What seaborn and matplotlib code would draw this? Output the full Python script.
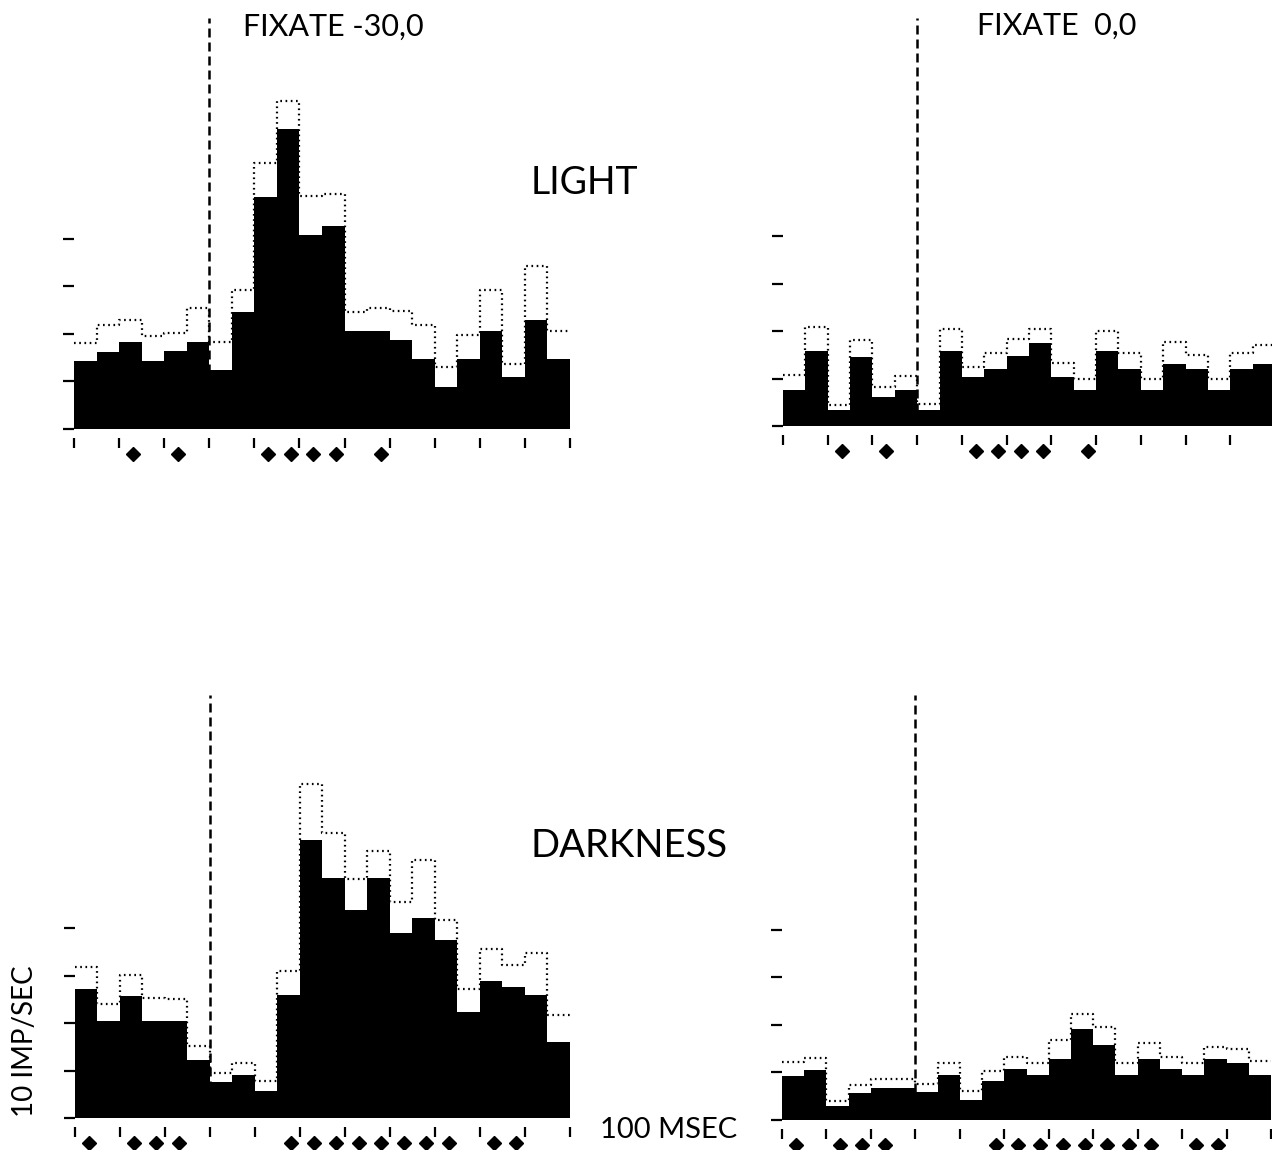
import numpy as np
import pandas as pd
import matplotlib
matplotlib.use("Agg")
import matplotlib.pyplot as plt
import seaborn as sns

# 50-ms bins, time in ms relative to the event marked by the dashed line
bin_edges_ms = list(range(-300, 801, 50))
tick_ms = list(range(-300, 801, 100))
rate_ticks = [0, 10, 20, 30, 40]

# Mean discharge rate (imp/sec) and mean + SE, per bin
light_m30_rate = [14.3, 16.2, 18.3, 14.3, 16.3, 18.3, 12.3, 24.6, 48.7, 63.0, 40.7,
                  42.6, 20.6, 20.6, 18.7, 14.6, 8.8, 14.6, 20.6, 10.8, 22.9, 14.7]
light_m30_upper = [18.1, 21.8, 22.9, 19.4, 20.2, 25.3, 18.2, 29.2, 55.8, 68.9, 48.9,
                   49.4, 24.6, 25.4, 24.8, 21.7, 12.9, 19.6, 29.1, 13.6, 34.3, 20.6]

light_00_rate = [7.6, 15.8, 3.3, 14.6, 6.1, 7.6, 3.3, 15.8, 10.4, 11.9, 14.7,
                 17.4, 10.4, 7.6, 15.8, 11.9, 7.6, 13.1, 11.9, 7.6, 11.9, 13.1]
light_00_upper = [10.8, 20.9, 4.4, 18.1, 8.2, 10.6, 4.6, 20.5, 12.4, 15.3, 18.4,
                  20.5, 13.3, 9.8, 20.1, 15.3, 9.8, 17.7, 14.9, 9.8, 15.3, 17.0]

dark_m30_rate = [27.1, 20.4, 25.7, 20.4, 20.4, 12.2, 7.5, 9.1, 5.7, 25.9, 58.5,
                 50.5, 43.7, 50.5, 39.0, 42.2, 37.4, 22.4, 28.9, 27.5, 25.9, 15.9]
dark_m30_upper = [31.7, 24.1, 30.2, 25.3, 25.0, 15.2, 9.4, 11.5, 7.8, 31.0, 70.4,
                  60.1, 50.3, 56.2, 45.5, 54.4, 41.7, 27.1, 35.5, 32.3, 34.8, 21.7]

dark_00_rate = [9.2, 10.4, 2.8, 5.6, 6.7, 6.7, 5.7, 9.4, 4.2, 8.1, 10.6,
                9.4, 12.8, 19.1, 15.6, 9.4, 12.8, 10.6, 9.4, 12.8, 11.8, 9.4]
dark_00_upper = [12.2, 13.0, 4.0, 7.3, 8.5, 8.5, 7.5, 11.9, 5.9, 10.3, 13.1,
                 11.9, 16.8, 22.2, 19.4, 11.9, 16.1, 13.1, 11.9, 15.3, 14.9, 12.4]

# Bins (1-based) flagged with a diamond under the time axis
marked_light = [3, 5, 9, 10, 11, 12, 14]
marked_dark = [1, 3, 4, 5, 10, 11, 12, 13, 14, 15, 16, 17, 19, 20]

W, H, DPI = 1272, 1150, 100
PX_PER_UNIT = 4.75  # pixels per imp/sec

sns.set_theme(style="white")
plt.rcParams["font.family"] = ["Lato", "DejaVu Sans"]

fig = plt.figure(figsize=(W / DPI, H / DPI), dpi=DPI)
fig.patch.set_facecolor("white")


def panel_axes(left, right, top, base):
    ax = fig.add_axes([left / W, 1 - base / H, (right - left) / W, (base - top) / H])
    return ax, (base - top) / PX_PER_UNIT


def draw_panel(ax, ytop, rate, upper, marked):
    edges = np.array(bin_edges_ms, dtype=float)
    width = float(edges[1] - edges[0])
    centers = (edges[:-1] + edges[1:]) / 2
    df = pd.DataFrame({"t": centers, "rate": rate, "upper": upper})
    hist_kw = dict(data=df, x="t", binwidth=width,
                   binrange=(float(edges[0]), float(edges[-1])),
                   element="step", ax=ax)

    sns.histplot(weights="upper", fill=False, color="black", linewidth=1.6,
                 linestyle=(0, (0.75, 1.6)), **hist_kw)
    sns.histplot(weights="rate", fill=True, color="black", alpha=1,
                 linewidth=0, **hist_kw)
    ax.axvline(0, color="black", linewidth=1.8, linestyle=(0, (3.6, 2.0)),
               dash_capstyle="butt")

    mx = [centers[i - 1] + 0.12 * width for i in marked]
    ax.plot(mx, [-25 / PX_PER_UNIT] * len(mx), linestyle="none", marker="D",
            markersize=6.8, color="black", clip_on=False)

    ax.set_xlim(edges[0], edges[-1])
    ax.set_ylim(0, ytop)
    ax.set_xticks(tick_ms)
    ax.set_yticks(rate_ticks)
    ax.set_xticklabels([])
    ax.set_yticklabels([])
    ax.set_xlabel("")
    ax.set_ylabel("")
    for s in ax.spines.values():
        s.set_visible(False)
    ax.spines["bottom"].set_position(("outward", 6.5))
    ax.tick_params(axis="x", bottom=True, direction="out", length=7.2,
                   width=1.6, color="black")
    ax.tick_params(axis="y", left=True, direction="out", length=7.6,
                   width=1.6, color="black", pad=0)
    ax.set_facecolor("none")
    ax.grid(False)


panels = [
    ((74, 570, 18, 428.5), light_m30_rate, light_m30_upper, marked_light),
    ((783, 1275, 18, 426), light_00_rate, light_00_upper, marked_light),
    ((75, 569.5, 695, 1118), dark_m30_rate, dark_m30_upper, marked_dark),
    ((782, 1271, 695, 1119.5), dark_00_rate, dark_00_upper, marked_dark),
]
for box, r, u, m in panels:
    ax, ytop = panel_axes(*box)
    draw_panel(ax, ytop, r, u, m)

txt = dict(color="black", fontweight="normal", va="baseline", ha="left")
fig.text(243 / W, 1 - 36 / H, "FIXATE -30,0", fontsize=22, **txt)
fig.text(977 / W, 1 - 35 / H, "FIXATE  0,0", fontsize=22, **txt)
fig.text(531 / W, 1 - 194 / H, "LIGHT", fontsize=27, **txt)
fig.text(530 / W, 1 - 857 / H, "DARKNESS", fontsize=27.5, **txt)
fig.text(600 / W, 1 - 1138 / H, "100 MSEC", fontsize=21, **txt)
fig.text(25 / W, 1 - 1041 / H, "10 IMP/SEC", fontsize=20, rotation=90,
         color="black", fontweight="normal", ha="center", va="center")

fig.savefig("out.png", dpi=DPI, facecolor="white")
